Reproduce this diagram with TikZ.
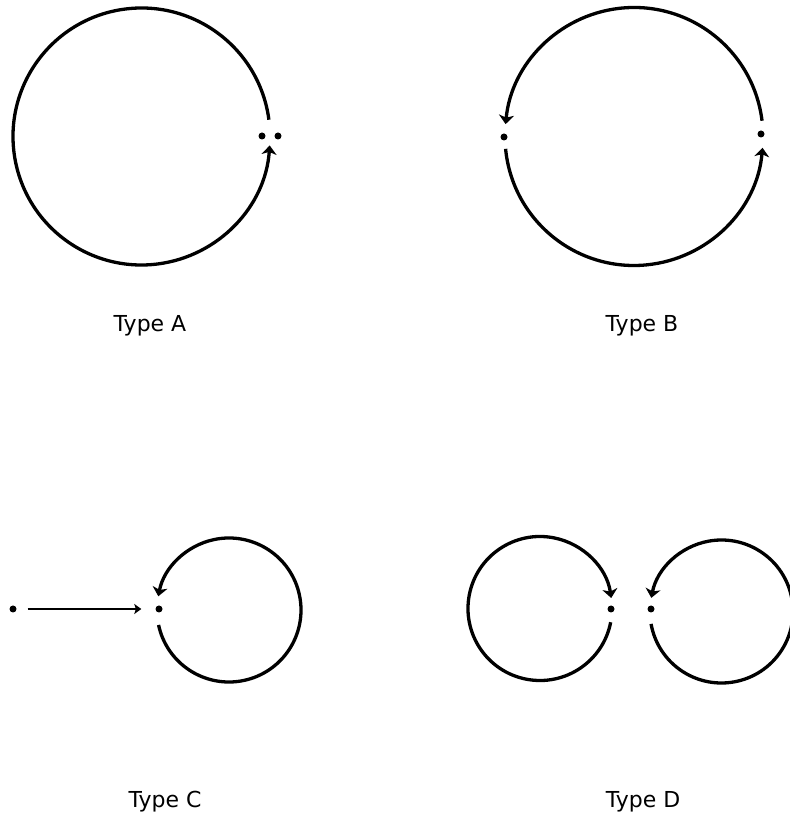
\documentclass[tikz,border=0pt]{standalone}
\usepackage{fontspec}
\setsansfont{DejaVu Sans}
\usetikzlibrary{arrows.meta}

\begin{document}
\begin{tikzpicture}[
    x=1pt, y=1pt,
    dot/.style={circle, fill=black, inner sep=0pt, minimum size=7pt},
    loop/.style={line width=3.3pt, -{Stealth[length=9pt, width=15pt, inset=2.5pt]}},
    feed/.style={line width=2.8pt, -{Stealth[length=7pt, width=10pt, inset=1.5pt]}, shorten <=11pt, shorten >=14pt},
    caption/.style={font=\sffamily\fontsize{22}{26}\selectfont, anchor=base}
]
\useasboundingbox (0,0) rectangle (790,815);

% Type A
\coordinate (ca) at (141.5,678.5);
\draw[loop] ([shift={(7.5:128.5)}]ca) arc[start angle=7.5, end angle=356, radius=128.5];
\node[dot] (a1) at (262,679) {};
\node[dot] (a2) at (278,679) {};
\node[caption] (capa) at (150,483) {Type A};

% Type B
\coordinate (cb) at (634,678.5);
\draw[loop] ([shift={(7:129)}]cb) arc[start angle=7, end angle=174.5, radius=129];
\draw[loop] ([shift={(185.5:129)}]cb) arc[start angle=185.5, end angle=355, radius=129];
\node[dot] (b1) at (504,678) {};
\node[dot] (b2) at (761,681) {};
\node[caption] (capb) at (642,483) {Type B};

% Type C
\coordinate (cc) at (229,205);
\node[dot] (cin) at (13,206) {};
\node[dot] (c1) at (159,206) {};
\draw[feed] (cin) -- (c1);
\draw[loop] ([shift={(192:72)}]cc) arc[start angle=192, end angle=529, radius=72];
\node[caption] (capc) at (165,7) {Type C};

% Type D
\coordinate (cd1) at (540,206.5);
\coordinate (cd2) at (721.5,203.5);
\draw[loop] ([shift={(-11:72)}]cd1) arc[start angle=-11, end angle=-351.6, radius=72];
\draw[loop] ([shift={(190:71.5)}]cd2) arc[start angle=190, end angle=529, radius=71.5];
\node[dot] (d1) at (611,206) {};
\node[dot] (d2) at (651,206) {};
\node[caption] (capd) at (643,7) {Type D};
\end{tikzpicture}
\end{document}
